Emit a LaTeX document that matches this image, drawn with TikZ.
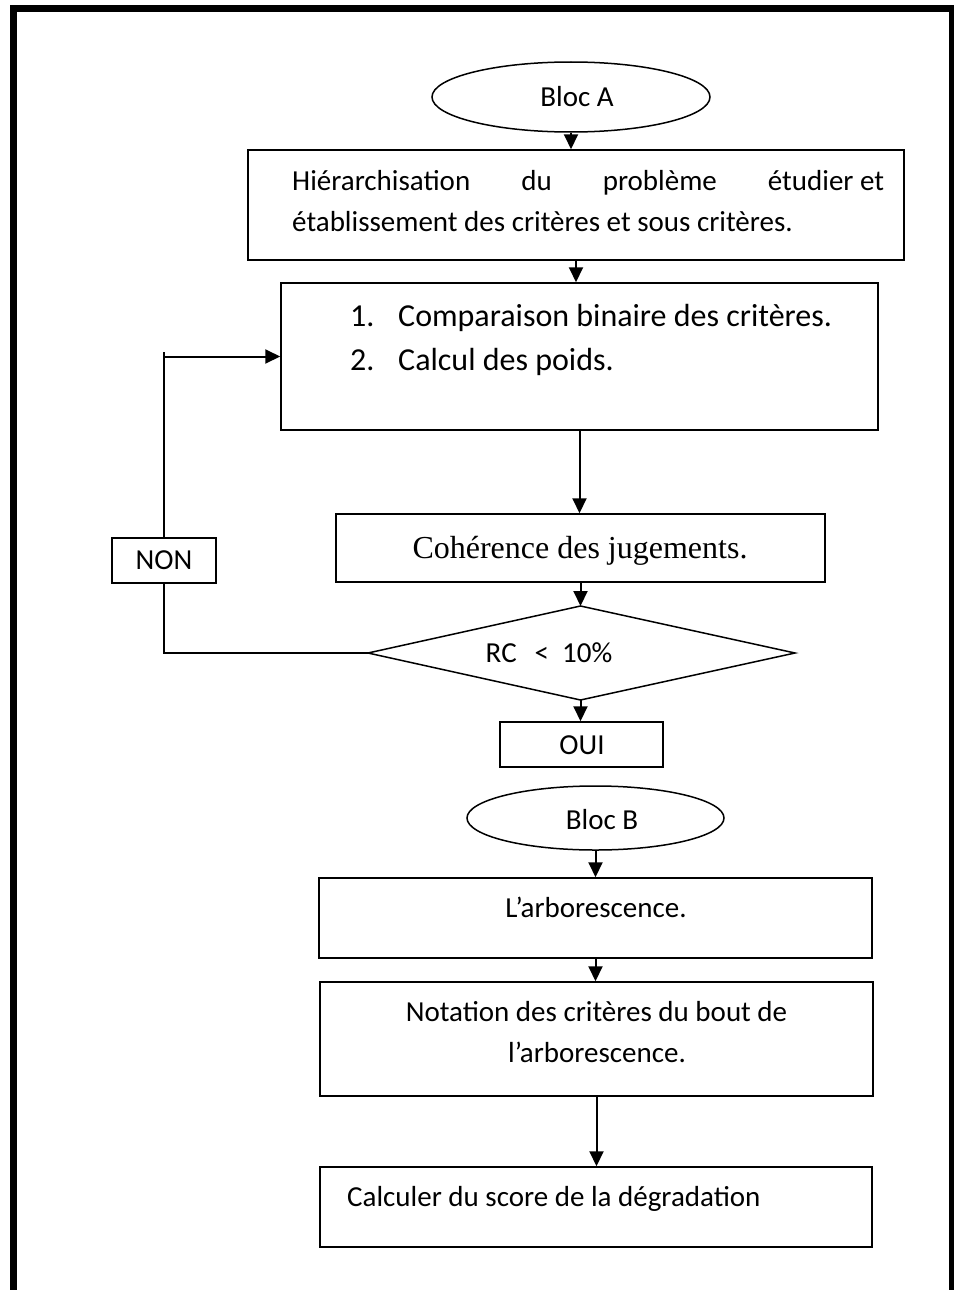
\documentclass[tikz,border=0pt]{standalone}
\usepackage{fontspec}
\setmainfont{Carlito}
\newfontfamily\timesfont{Liberation Serif}
\usetikzlibrary{arrows.meta,shapes.geometric,calc}
\begin{document}
\begin{tikzpicture}[x=1pt,y=-1pt,
  boxstyle/.style={draw, line width=1.5pt, rectangle, inner sep=0pt},
  ovalstyle/.style={draw, line width=1.5pt, ellipse, inner sep=0pt},
  txt/.style={inner sep=0pt, font=\fontsize{29}{35}\selectfont},
  bigtxt/.style={inner sep=0pt, font=\fontsize{32}{38}\selectfont},
  conn/.style={line width=2pt},
  arr/.style={line width=2pt, -{Triangle[length=15pt,width=14pt]}}]
\useasboundingbox (0,0) rectangle (953,1290);
% outer frame (no bottom side)
\draw[line width=7pt, line join=miter] (13.5,1295) -- (13.5,8.5) -- (952.5,8.5) -- (952.5,1295);

% nodes
\node[ovalstyle, minimum width=278pt, minimum height=70pt] (blocA) at (571,97) {};
\node[boxstyle, minimum width=656pt, minimum height=110pt] (b1) at (576,205) {};
\node[boxstyle, minimum width=597pt, minimum height=147pt] (b2) at (579.5,356.5) {};
\node[boxstyle, minimum width=489pt, minimum height=68pt] (b3) at (580.5,548) {};
\coordinate (dT) at (580.5,606);
\coordinate (dB) at (580.5,700);
\coordinate (dL) at (368,653);
\coordinate (dR) at (795,653);
\draw[line width=1.5pt] (dT) -- (dR) -- (dB) -- (dL) -- cycle;
\node[boxstyle, minimum width=163pt, minimum height=45pt] (oui) at (581.5,744.5) {};
\node[boxstyle, minimum width=104pt, minimum height=45pt] (non) at (164,560.5) {};
\node[ovalstyle, minimum width=257pt, minimum height=64pt] (blocB) at (595.5,818) {};
\node[boxstyle, minimum width=553pt, minimum height=80pt] (b4) at (595.5,918) {};
\node[boxstyle, minimum width=553pt, minimum height=114pt] (b5) at (596.5,1039) {};
\node[boxstyle, minimum width=552pt, minimum height=80pt] (b6) at (596,1207) {};

% texts
\node[txt, anchor=base] (tA) at (577,106) {Bloc A};
\node[txt, anchor=base west] (t1a) at (292,190) {\makebox[592pt][l]{Hiérarchisation\hfill du\hfill problème\hfill étudier et}};
\node[txt, anchor=base west] (t1b) at (292,231) {établissement des critères et sous critères.};
\node[bigtxt, anchor=base west] (n1) at (350,326) {1.};
\node[bigtxt, anchor=base west] (t2a) at (398,326) {Comparaison binaire des critères.};
\node[bigtxt, anchor=base west] (n2) at (350,370) {2.};
\node[bigtxt, anchor=base west] (t2b) at (398,370) {Calcul des poids.};
\node[inner sep=0pt, font=\timesfont\fontsize{32}{38}\selectfont, anchor=base] (t3) at (580,558) {Cohérence des jugements.};
\node[txt, anchor=base] (tRC) at (549,662) {RC\hspace{18pt}<\hspace{13pt}10\%};
\node[txt, anchor=base] (tNON) at (164,569) {NON};
\node[txt, anchor=base] (tOUI) at (582,754) {OUI};
\node[txt, anchor=base] (tB) at (602,829) {Bloc B};
\node[txt, anchor=base] (t4) at (596,917) {L’arborescence.};
\node[txt, anchor=base] (t5a) at (596.5,1021) {Notation des critères du bout de};
\node[txt, anchor=base] (t5b) at (597,1062) {l’arborescence.};
\node[txt, anchor=base west] (t6) at (347,1206) {Calculer du score de la dégradation};

% connectors
\draw[arr] (blocA.south) -- (blocA.south |- b1.north);
\draw[arr] (b1.south) -- (b1.south |- b2.north);
\draw[arr] (b2.south) -- (b2.south |- b3.north);
\draw[arr] (b3.south) -- (dT);
\draw[arr] (dB) -- (dB |- oui.north);
\draw[conn] (dL) -- (dL -| non.south) -- (non.south);
\coordinate (lp) at (164,352);
\draw[conn] (non.north) -- (lp);
\draw[arr] (lp |- b2.west) -- (b2.west);
\draw[arr] (blocB.south) -- (blocB.south |- b4.north);
\draw[arr] (b4.south) -- (b4.south |- b5.north);
\draw[arr] (b5.south) -- (b5.south |- b6.north);
\end{tikzpicture}
\end{document}
